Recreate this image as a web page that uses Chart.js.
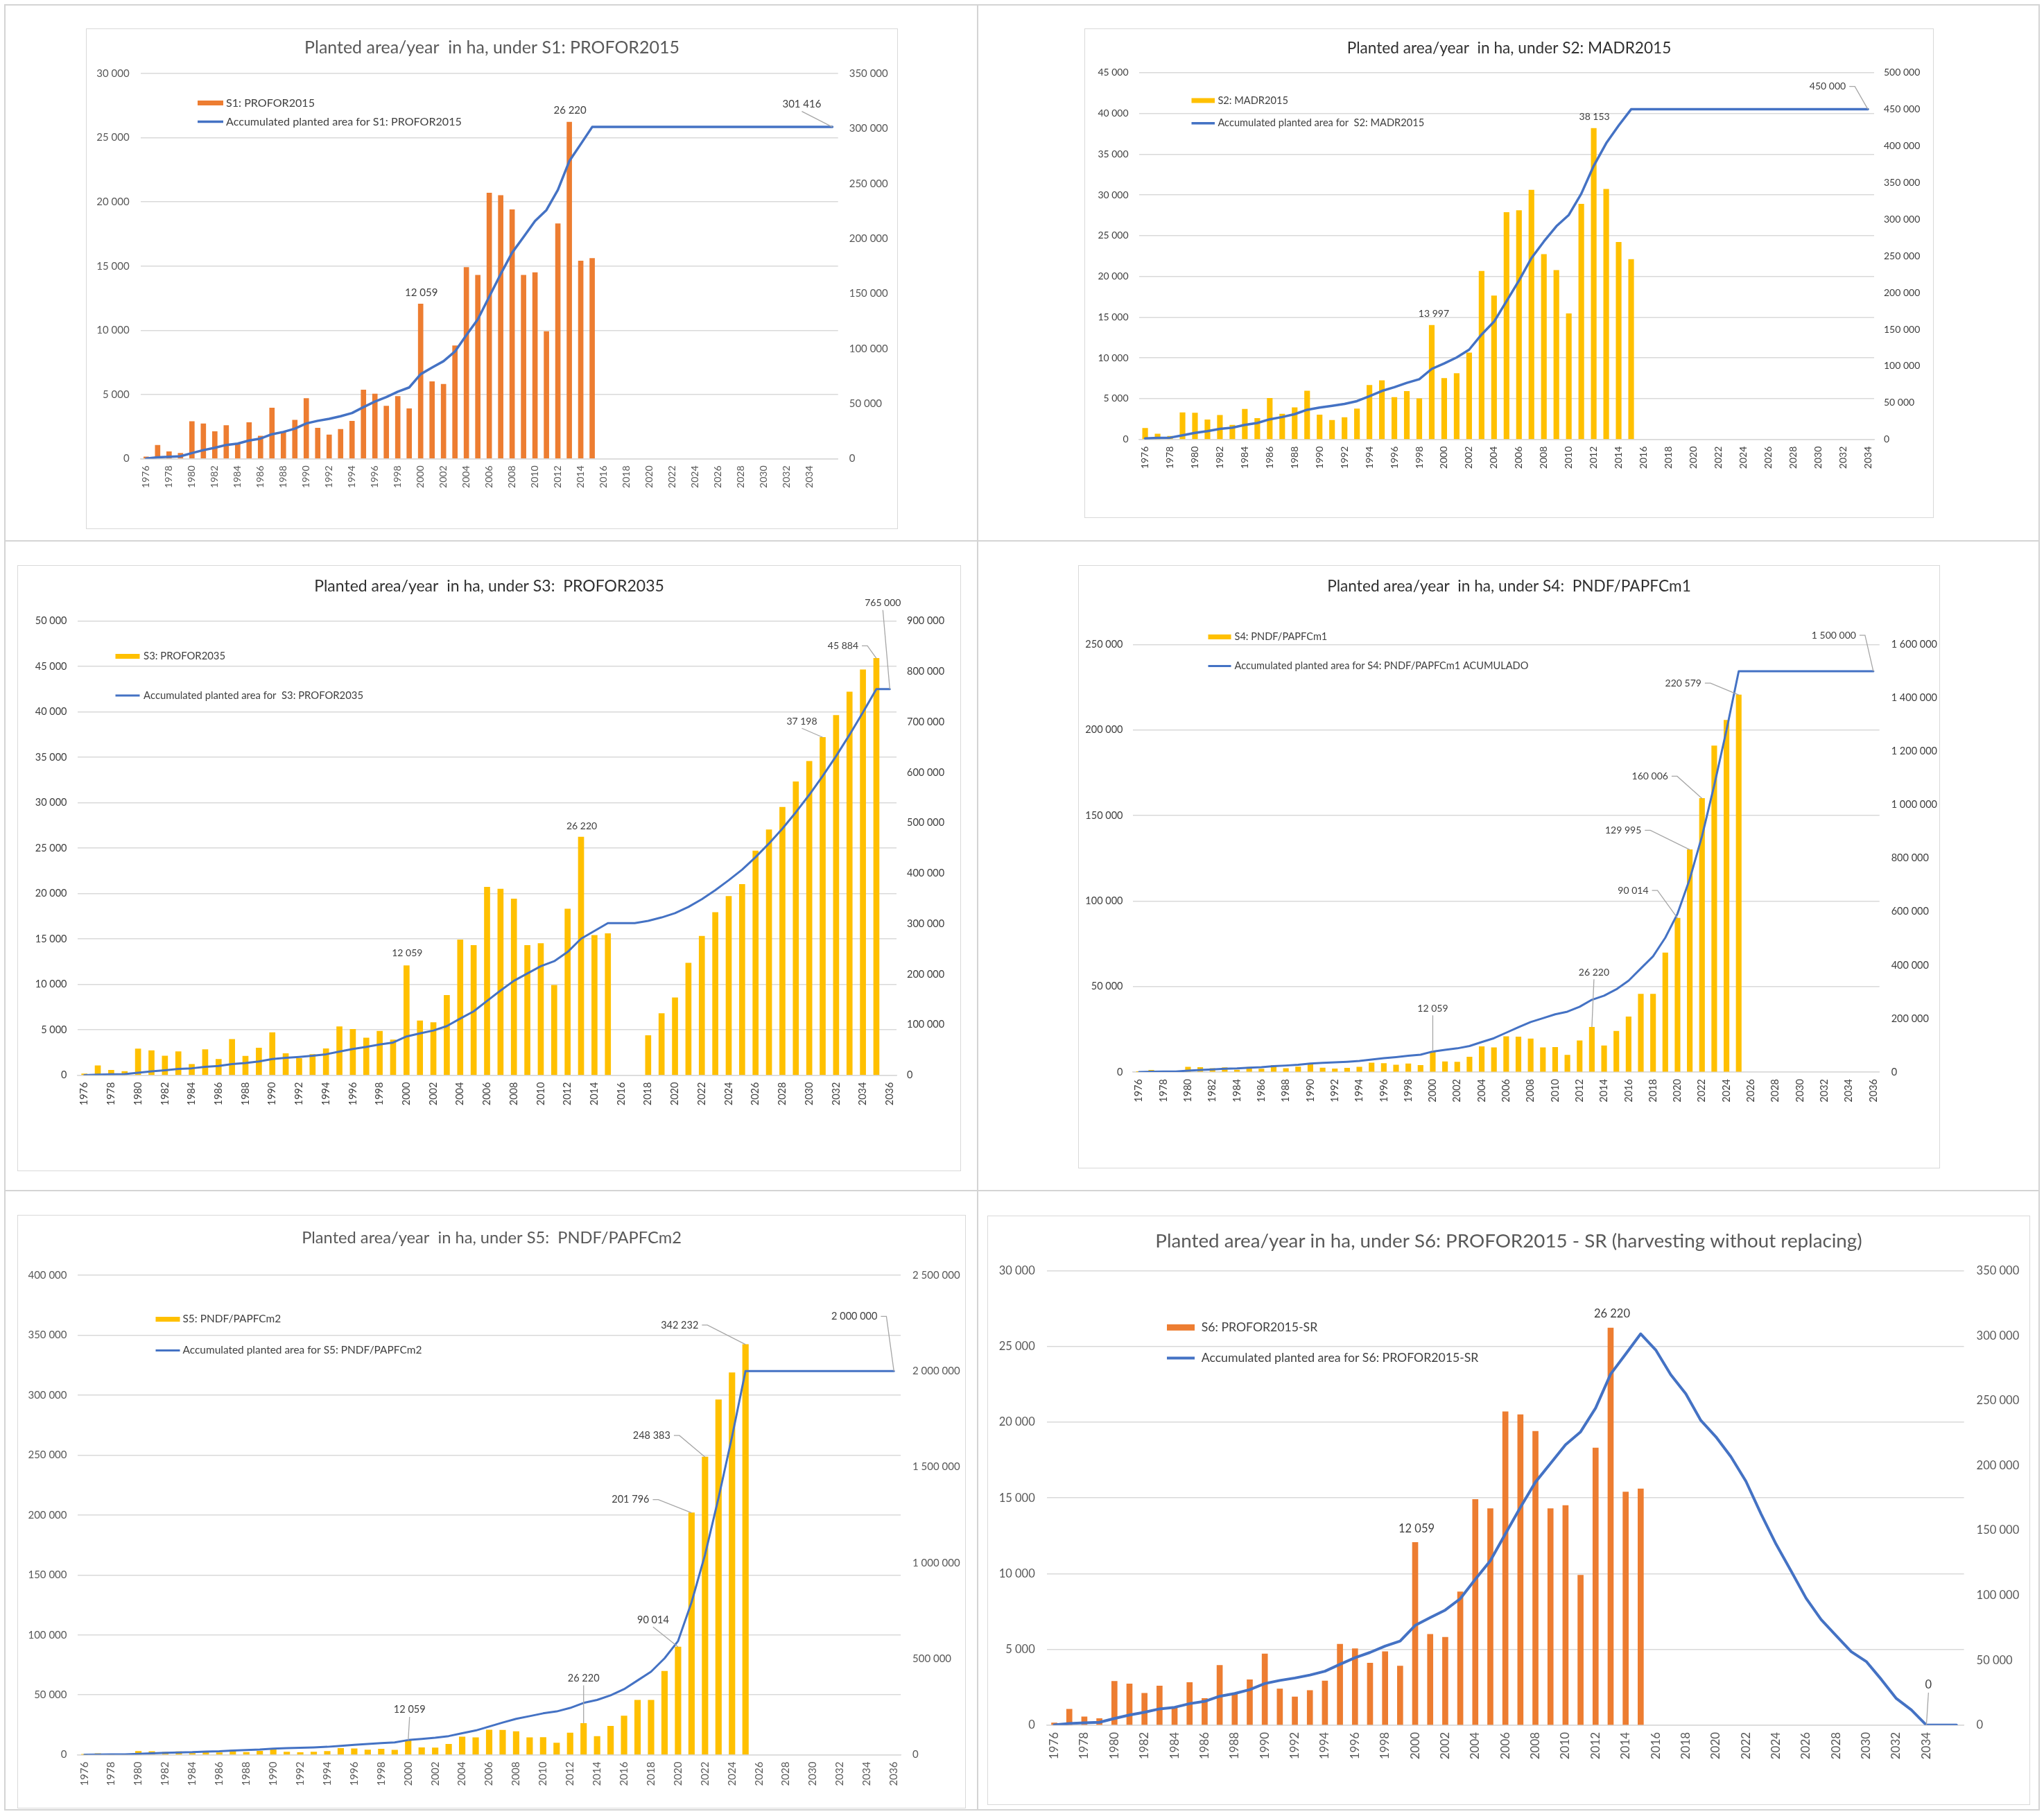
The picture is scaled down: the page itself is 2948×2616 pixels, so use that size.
<!DOCTYPE html>
<html>
<head>
<meta charset="utf-8">
<script src="https://cdn.jsdelivr.net/npm/chart.js@4.4.1/dist/chart.umd.min.js"></script>
<style>
  html, body { margin: 0; padding: 0; background: #ffffff; }
  body { width: 2948px; height: 2616px; position: relative; overflow: hidden; font-family: Lato, sans-serif; }
  .rule { position: absolute; background: #d4d4d4; }
  .chartBorder { position: absolute; box-sizing: border-box; border: 1.5px solid #d9d9d9; pointer-events: none; }
  canvas { position: absolute; }
</style>
</head>
<body>
<script>
// ---------------------------------------------------------------------------
// Categories (years) and tick labels
// ---------------------------------------------------------------------------
const YEARS_1976_2036 = ['1976','1977','1978','1979','1980','1981','1982','1983','1984','1985',
  '1986','1987','1988','1989','1990','1991','1992','1993','1994','1995',
  '1996','1997','1998','1999','2000','2001','2002','2003','2004','2005',
  '2006','2007','2008','2009','2010','2011','2012','2013','2014','2015',
  '2016','2017','2018','2019','2020','2021','2022','2023','2024','2025',
  '2026','2027','2028','2029','2030','2031','2032','2033','2034','2035','2036'];
// S1 and S6 leave the final category unlabeled
const YEARS_S1_S6 = YEARS_1976_2036.slice(0, 60).concat(['']);
const YEARS_1976_2034 = YEARS_1976_2036.slice(0, 59);

// ---------------------------------------------------------------------------
// Planted area per year (ha)
// ---------------------------------------------------------------------------
// common history 1976-2014 (PROFOR)
const PLANTED_1976_2014 = [150, 1050, 550, 430, 2900, 2720, 2110, 2590, 1200, 2820,
  1760, 3950, 2100, 3000, 4700, 2390, 1860, 2290, 2920, 5350,
  5050, 4097, 4850, 3900, 12059, 6000, 5800, 8800, 14900, 14300,
  20700, 20500, 19400, 14300, 14500, 9900, 18300, 26220, 15400];
const ACCUM_1976_2014 = [150, 1200, 1750, 2180, 5080, 7800, 9910, 12500, 13700, 16520,
  18280, 22230, 24330, 27330, 32030, 34420, 36280, 38570, 41490, 46840,
  51890, 55987, 60837, 64737, 76796, 82796, 88596, 97396, 112296, 126596,
  147296, 167796, 187196, 201496, 215996, 225896, 244196, 270416, 285816];

// S1: PROFOR2015
const S1_PLANTED = PLANTED_1976_2014.concat([15600]);
const S1_ACCUM = ACCUM_1976_2014.concat([301416,
  301416, 301416, 301416, 301416, 301416, 301416, 301416, 301416, 301416, 301416,
  301416, 301416, 301416, 301416, 301416, 301416, 301416, 301416, 301416, 301416, 301416]);

// S2: MADR2015
const S2_PLANTED = [1370, 660, 400, 3280, 3240, 2420, 2970, 1760, 3710, 2580,
  5040, 3120, 3910, 5940, 3010, 2340, 2700, 3750, 6640, 7230,
  5160, 5900, 5000, 13997, 7500, 8090, 10630, 20630, 17620, 27850,
  28090, 30590, 22700, 20740, 15430, 28870, 38153, 30700, 24200, 22080];
const S2_ACCUM = [1370, 2030, 2430, 5710, 8950, 11370, 14340, 16100, 19810, 22390,
  27430, 30550, 34460, 40400, 43410, 45750, 48450, 52200, 58840, 66070,
  71230, 77130, 82130, 96127, 103627, 111717, 122347, 142977, 160597, 188447,
  216537, 247127, 269827, 290567, 305997, 334867, 373020, 403720, 427920, 450000,
  450000, 450000, 450000, 450000, 450000, 450000, 450000, 450000, 450000, 450000,
  450000, 450000, 450000, 450000, 450000, 450000, 450000, 450000, 450000];

// S3: PROFOR2035
const S3_PLANTED = PLANTED_1976_2014.concat([15600, null, null,
  4370, 6800, 8530, 12350, 15300, 17920, 19700, 21010, 24700, 27020,
  29500, 32300, 34560, 37198, 39620, 42182, 44640, 45884]);
const S3_ACCUM = ACCUM_1976_2014.concat([301416, 301416, 301416,
  305786, 312586, 321116, 333466, 348766, 366686, 386386, 407396, 432096, 459116,
  488616, 520916, 555476, 592674, 632294, 674476, 719116, 765000, 765000]);

// S4: PNDF/PAPFCm1
const S4_PLANTED = PLANTED_1976_2014.concat([23900, 32330, 45540, 45540, 69670,
  90014, 129995, 160006, 190800, 205810, 220579]);
const S4_ACCUM = ACCUM_1976_2014.concat([309716, 342046, 387586, 433126, 502796,
  592810, 722805, 882811, 1073611, 1279421, 1500000,
  1500000, 1500000, 1500000, 1500000, 1500000, 1500000, 1500000, 1500000, 1500000, 1500000, 1500000]);

// S5: PNDF/PAPFCm2
const S5_PLANTED = PLANTED_1976_2014.concat([23900, 32330, 45540, 45540, 69670,
  90014, 201796, 248383, 296130, 318649, 342232]);
const S5_ACCUM = ACCUM_1976_2014.concat([309716, 342046, 387586, 433126, 502796,
  592810, 794606, 1042989, 1339119, 1657768, 2000000,
  2000000, 2000000, 2000000, 2000000, 2000000, 2000000, 2000000, 2000000, 2000000, 2000000, 2000000]);

// S6: PROFOR2015-SR (harvesting without replacing)
const S6_PLANTED = S1_PLANTED;
const S6_ACCUM = ACCUM_1976_2014.concat([301416,
  289000, 269900, 255200, 234700, 222100, 206800, 187800, 162800, 139400, 118800,
  97700, 81300, 68900, 56600, 49000, 35200, 20500, 11700, 0, 0, 0]);

// ---------------------------------------------------------------------------
// Styling helpers
// ---------------------------------------------------------------------------
const ORANGE = '#ED7D31', GOLD = '#FFC000', BLUE = '#4472C4';
const fmt = v => String(Math.round(v)).replace(/\B(?=(\d{3})+(?!\d))/g, ' ');
const measureCtx = document.createElement('canvas').getContext('2d');
function fitSize(text, width) {
  measureCtx.font = 'normal 100px Lato';
  return 100 * width / measureCtx.measureText(text).width;
}

// Value labels with optional leader lines, positioned from the drawn elements
const valueLabels = {
  id: 'valueLabels',
  afterDatasetsDraw(chart, args, o) {
    const ctx = chart.ctx;
    ctx.save();
    ctx.font = `normal ${o.size}px Lato`;
    ctx.textAlign = 'center';
    ctx.textBaseline = 'middle';
    for (const it of o.items) {
      const di = it.series === 'line' ? 0 : 1;
      const el = chart.getDatasetMeta(di).data[it.index];
      const txt = fmt(chart.data.datasets[di].data[it.index]);
      const lx = el.x + it.dx, ly = el.y + it.dy;
      if (it.leader) {
        ctx.strokeStyle = '#a6a6a6';
        ctx.lineWidth = 1.3;
        ctx.beginPath();
        if (it.leader === 'bottom') {
          ctx.moveTo(lx, ly + o.size * 0.5 + 3);
          ctx.lineTo(el.x, el.y);
        } else {
          const sx = lx + ctx.measureText(txt).width / 2 + 5;
          ctx.moveTo(sx, ly);
          ctx.lineTo(sx + 8, ly);
          ctx.lineTo(el.x, el.y);
        }
        ctx.stroke();
      }
      ctx.fillStyle = o.color;
      ctx.fillText(txt, lx, ly);
    }
    ctx.restore();
  }
};

// Legend drawn inside the plot area (bar key above line key)
const plotLegend = {
  id: 'plotLegend',
  afterDraw(chart, args, o) {
    const { ctx, chartArea } = chart;
    const x = chartArea.left + o.x;
    const y1 = chartArea.top + o.y1, y2 = chartArea.top + o.y2;
    ctx.save();
    ctx.fillStyle = chart.data.datasets[1].backgroundColor;
    ctx.fillRect(x, y1 - o.barH / 2, o.sw, o.barH);
    ctx.strokeStyle = chart.data.datasets[0].borderColor;
    ctx.lineWidth = o.lineW;
    ctx.beginPath();
    ctx.moveTo(x, y2);
    ctx.lineTo(x + o.sw, y2);
    ctx.stroke();
    const size = fitSize(chart.data.datasets[0].label, o.textWidth);
    ctx.font = `normal ${size}px Lato`;
    ctx.fillStyle = o.color;
    ctx.textAlign = 'left';
    ctx.textBaseline = 'middle';
    ctx.fillText(chart.data.datasets[1].label, x + o.sw + o.gap, y1);
    ctx.fillText(chart.data.datasets[0].label, x + o.sw + o.gap, y2);
    ctx.restore();
  }
};

// ---------------------------------------------------------------------------
// Panels
// ---------------------------------------------------------------------------
const panels = [
  { title: 'Planted area/year  in ha, under S1: PROFOR2015', titleWidth: 541, titleY: 69, titleColor: '#595959',
    box: [124, 41, 1295, 763], plot: [202.6, 106, 1208.7, 661.5],
    labels: YEARS_S1_S6, planted: S1_PLANTED, accum: S1_ACCUM, barColor: ORANGE,
    barLabel: 'S1: PROFOR2015', lineLabel: 'Accumulated planted area for S1: PROFOR2015',
    yMax: 30000, yStep: 5000, y1Max: 350000, y1Step: 50000,
    tickSize: 15, xSize: 14, tickColor: '#595959', yPad: 16, y1Pad: 16, barW: 7, lineW: 3.5,
    legend: { x: 82.4, y1: 42.5, y2: 69.5, sw: 37, gap: 4, barH: 7, textWidth: 340 },
    labelSize: 15,
    items: [
      { series: 'bar', index: 24, dx: 1, dy: -16 },
      { series: 'bar', index: 37, dx: 1, dy: -17 },
      { series: 'line', index: 60, dx: -44, dy: -33, leader: 'bottom' }
    ] },
  { title: 'Planted area/year  in ha, under S2: MADR2015', titleWidth: 468, titleY: 70, titleColor: '#303030',
    box: [1564, 41, 2789, 747], plot: [1642.6, 104.7, 2703, 633.7],
    labels: YEARS_1976_2034, planted: S2_PLANTED, accum: S2_ACCUM, barColor: GOLD,
    barLabel: 'S2: MADR2015', lineLabel: 'Accumulated planted area for  S2: MADR2015',
    yMax: 45000, yStep: 5000, y1Max: 500000, y1Step: 50000,
    tickSize: 14, xSize: 14, tickColor: '#404040', yPad: 15, y1Pad: 14, barW: 7.5, lineW: 3.5,
    legend: { x: 75.9, y1: 40.3, y2: 73, sw: 33.5, gap: 4.4, barH: 7, textWidth: 298 },
    labelSize: 14,
    items: [
      { series: 'bar', index: 23, dx: 3, dy: -17 },
      { series: 'bar', index: 36, dx: 1, dy: -17 },
      { series: 'line', index: 58, dx: -58, dy: -33, leader: 'side' }
    ] },
  { title: 'Planted area/year  in ha, under S3:  PROFOR2035', titleWidth: 505, titleY: 845, titleColor: '#303030',
    box: [24.5, 814.5, 1385, 1688], plot: [111.5, 895, 1292, 1549.6],
    labels: YEARS_1976_2036, planted: S3_PLANTED, accum: S3_ACCUM, barColor: GOLD,
    barLabel: 'S3: PROFOR2035', lineLabel: 'Accumulated planted area for  S3: PROFOR2035',
    yMax: 50000, yStep: 5000, y1Max: 900000, y1Step: 100000,
    tickSize: 14.5, xSize: 14.5, tickColor: '#404040', yPad: 15.5, y1Pad: 15, barW: 8, lineW: 3,
    legend: { x: 54.5, y1: 51, y2: 107.5, sw: 35, gap: 5.6, barH: 7, textWidth: 317 },
    labelSize: 14,
    items: [
      { series: 'bar', index: 24, dx: 1, dy: -18 },
      { series: 'bar', index: 37, dx: 1, dy: -16 },
      { series: 'bar', index: 55, dx: -30, dy: -23, leader: 'bottom' },
      { series: 'bar', index: 59, dx: -48, dy: -18, leader: 'side' },
      { series: 'line', index: 60, dx: -10, dy: -124, leader: 'bottom' }
    ] },
  { title: 'Planted area/year  in ha, under S4:  PNDF/PAPFCm1', titleWidth: 525, titleY: 845, titleColor: '#303030',
    box: [1554.5, 814.5, 2797, 1684], plot: [1633.5, 929, 2709.7, 1545],
    labels: YEARS_1976_2036, planted: S4_PLANTED, accum: S4_ACCUM, barColor: GOLD,
    barLabel: 'S4: PNDF/PAPFCm1', lineLabel: 'Accumulated planted area for S4: PNDF/PAPFCm1 ACUMULADO',
    yMax: 250000, yStep: 50000, y1Max: 1600000, y1Step: 200000,
    tickSize: 14.5, xSize: 14.5, tickColor: '#404040', yPad: 14.5, y1Pad: 17, barW: 7.5, lineW: 3,
    legend: { x: 108.5, y1: -11, y2: 31, sw: 33, gap: 5, barH: 7, textWidth: 424 },
    labelSize: 14,
    items: [
      { series: 'bar', index: 24, dx: 0, dy: -62, leader: 'bottom' },
      { series: 'bar', index: 37, dx: 3, dy: -79, leader: 'bottom' },
      { series: 'bar', index: 44, dx: -64, dy: -40, leader: 'side' },
      { series: 'bar', index: 45, dx: -96, dy: -28, leader: 'side' },
      { series: 'bar', index: 46, dx: -75, dy: -32, leader: 'side' },
      { series: 'bar', index: 49, dx: -80, dy: -17, leader: 'side' },
      { series: 'line', index: 60, dx: -57, dy: -52, leader: 'side' }
    ] },
  { title: 'Planted area/year  in ha, under S5:  PNDF/PAPFCm2', titleWidth: 548, titleY: 1785, titleColor: '#595959',
    box: [24.5, 1752, 1392, 2608], plot: [111.5, 1839, 1298, 2530.6],
    labels: YEARS_1976_2036, planted: S5_PLANTED, accum: S5_ACCUM, barColor: GOLD,
    barLabel: 'S5: PNDF/PAPFCm2', lineLabel: 'Accumulated planted area for S5: PNDF/PAPFCm2',
    yMax: 400000, yStep: 50000, y1Max: 2500000, y1Step: 500000,
    tickSize: 15, xSize: 15, tickColor: '#595959', yPad: 15.5, y1Pad: 17, barW: 8.5, lineW: 3,
    legend: { x: 112.5, y1: 63.5, y2: 108.5, sw: 35, gap: 4, barH: 7, textWidth: 345 },
    labelSize: 14.5,
    items: [
      { series: 'bar', index: 24, dx: 2, dy: -44, leader: 'bottom' },
      { series: 'bar', index: 37, dx: 0, dy: -65, leader: 'bottom' },
      { series: 'bar', index: 44, dx: -36, dy: -39, leader: 'bottom' },
      { series: 'bar', index: 45, dx: -88, dy: -19, leader: 'side' },
      { series: 'bar', index: 46, dx: -77, dy: -31, leader: 'side' },
      { series: 'bar', index: 49, dx: -95, dy: -28, leader: 'side' },
      { series: 'line', index: 60, dx: -57, dy: -79, leader: 'side' }
    ] },
  { title: 'Planted area/year in ha, under S6: PROFOR2015 - SR (harvesting without replacing)', titleWidth: 1020, titleY: 1789.5, titleColor: '#595959',
    box: [1424, 1752.7, 2928, 2603], plot: [1509.7, 1832.3, 2832.6, 2487.8],
    labels: YEARS_S1_S6, planted: S6_PLANTED, accum: S6_ACCUM, barColor: ORANGE,
    barLabel: 'S6: PROFOR2015-SR', lineLabel: 'Accumulated planted area for S6: PROFOR2015-SR',
    yMax: 30000, yStep: 5000, y1Max: 350000, y1Step: 50000,
    tickSize: 16.5, xSize: 17, tickColor: '#595959', yPad: 17, y1Pad: 18, barW: 8, lineW: 4,
    legend: { x: 173.3, y1: 81.7, y2: 126, sw: 40, gap: 9.7, barH: 9, textWidth: 400 },
    labelSize: 16.5,
    items: [
      { series: 'bar', index: 24, dx: 2, dy: -20 },
      { series: 'bar', index: 37, dx: 2, dy: -20 },
      { series: 'line', index: 58, dx: 3, dy: -58, leader: 'bottom' }
    ] }
];

// Light frame separating the six panels
function rule(x, y, w, h) {
  const d = document.createElement('div');
  d.className = 'rule';
  Object.assign(d.style, { left: x + 'px', top: y + 'px', width: w + 'px', height: h + 'px' });
  document.body.appendChild(d);
}
rule(6, 6, 2936, 2);
rule(6, 2609, 2936, 2);
rule(6, 6, 2, 2605);
rule(2940, 6, 2, 2605);
rule(1409, 6, 2, 2605);
rule(6, 779, 2936, 2);
rule(6, 1716, 2936, 2);

function buildPanel(p) {
  const [bx0, by0, bx1, by1] = p.box;
  const [px0, py0, px1, py1] = p.plot;
  const W = Math.round(bx1 - bx0), H = Math.round(by1 - by0);

  const canvas = document.createElement('canvas');
  canvas.width = W;
  canvas.height = H;
  Object.assign(canvas.style, { left: bx0 + 'px', top: by0 + 'px', width: W + 'px', height: H + 'px' });
  document.body.appendChild(canvas);

  const border = document.createElement('div');
  border.className = 'chartBorder';
  Object.assign(border.style, { left: bx0 + 'px', top: by0 + 'px', width: W + 'px', height: H + 'px' });
  document.body.appendChild(border);

  const leftW = px0 - bx0, rightW = bx1 - px1, bottomH = by1 - py1, topH = py0 - by0;
  const tfs = fitSize(p.title, p.titleWidth);
  const tTop = p.titleY - by0 - 0.6 * tfs;
  const tBottom = topH - tTop - 1.2 * tfs;
  const tickFont = { family: 'Lato', size: p.tickSize };

  new Chart(canvas.getContext('2d'), {
    type: 'bar',
    data: {
      labels: p.labels,
      datasets: [
        { type: 'line', label: p.lineLabel, data: p.accum, yAxisID: 'y1', order: 0,
          borderColor: BLUE, backgroundColor: BLUE, borderWidth: p.lineW,
          pointRadius: 0, tension: 0, fill: false, borderJoinStyle: 'round', borderCapStyle: 'round' },
        { type: 'bar', label: p.barLabel, data: p.planted, yAxisID: 'y', order: 1,
          backgroundColor: p.barColor, barThickness: p.barW }
      ]
    },
    options: {
      responsive: false,
      animation: false,
      devicePixelRatio: 1,
      layout: { padding: 0 },
      plugins: {
        legend: { display: false },
        tooltip: { enabled: false },
        title: {
          display: true, text: p.title, color: p.titleColor,
          font: { family: 'Lato', size: tfs, weight: 'normal', lineHeight: 1.2 },
          padding: { top: tTop, bottom: tBottom }
        },
        valueLabels: { size: p.labelSize, color: '#404040', items: p.items },
        plotLegend: Object.assign({ color: '#404040', lineW: p.lineW }, p.legend)
      },
      scales: {
        x: {
          type: 'category', offset: true,
          grid: { display: false, drawTicks: false },
          border: { display: true, color: '#d9d9d9', width: 1.5 },
          ticks: {
            autoSkip: false, minRotation: 90, maxRotation: 90, padding: 10,
            color: p.tickColor, font: { family: 'Lato', size: p.xSize },
            callback(v, i) { return i % 2 === 0 ? this.getLabelForValue(v) : ''; }
          },
          afterFit(s) { s.height = bottomH; }
        },
        y: {
          position: 'left', min: 0, max: p.yMax,
          grid: { color: '#d9d9d9', lineWidth: 1.5, drawTicks: false },
          border: { display: false },
          ticks: { stepSize: p.yStep, callback: v => fmt(v), color: p.tickColor, font: tickFont, padding: p.yPad },
          afterFit(s) { s.width = leftW; }
        },
        y1: {
          position: 'right', min: 0, max: p.y1Max,
          grid: { display: false, drawTicks: false },
          border: { display: false },
          ticks: { stepSize: p.y1Step, callback: v => fmt(v), color: p.tickColor, font: tickFont, padding: p.y1Pad },
          afterFit(s) { s.width = rightW; }
        }
      }
    },
    plugins: [valueLabels, plotLegend]
  });
}

panels.forEach(buildPanel);
</script>
</body>
</html>
